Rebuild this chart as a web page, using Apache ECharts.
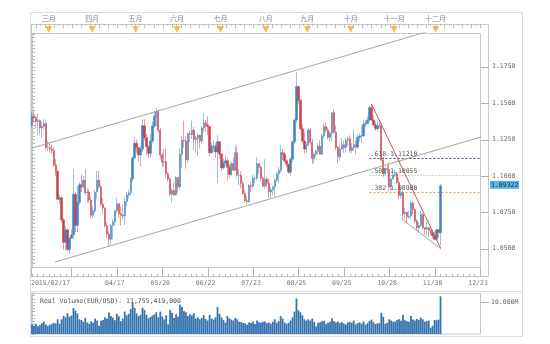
<!DOCTYPE html>
<html><head><meta charset="utf-8">
<script src="https://cdn.jsdelivr.net/npm/echarts@6/dist/echarts.min.js"></script>
<style>html,body{margin:0;padding:0;background:#fff}#c{width:550px;height:344px}</style>
</head><body><div id="c"></div>
<script>
// EUR/USD daily candles, 2015/02/17 .. 2015/12/03 : [open, close, low, high]
const candles = [
// Feb
[1.1350,1.1410,1.1335,1.1445],[1.1410,1.1400,1.1370,1.1450],[1.1400,1.1375,1.1330,1.1420],[1.1375,1.1380,1.1280,1.1430],
[1.1380,1.1330,1.1290,1.1390],[1.1330,1.1340,1.1260,1.1370],[1.1340,1.1360,1.1320,1.1390],[1.1360,1.1195,1.1175,1.1375],
[1.1195,1.1195,1.1170,1.1240],
// Mar
[1.1195,1.1185,1.1160,1.1235],[1.1185,1.1175,1.1150,1.1215],[1.1175,1.1075,1.1065,1.1190],[1.1075,1.1030,1.1000,1.1115],
[1.1030,1.0840,1.0835,1.1040],[1.0840,1.0850,1.0810,1.0875],[1.0850,1.0700,1.0680,1.0865],[1.0700,1.0545,1.0495,1.0710],
[1.0545,1.0630,1.0490,1.0655],[1.0630,1.0495,1.0485,1.0640],[1.0495,1.0570,1.0462,1.0580],[1.0570,1.0595,1.0570,1.0635],
[1.0595,1.0875,1.0565,1.1045],[1.0875,1.0660,1.0615,1.0890],[1.0660,1.0820,1.0615,1.0930],[1.0820,1.0940,1.0800,1.0955],
[1.0940,1.0925,1.0890,1.1010],[1.0925,1.0970,1.0915,1.1000],[1.0970,1.0885,1.0865,1.1050],[1.0885,1.0890,1.0815,1.0915],
[1.0890,1.0835,1.0815,1.0910],[1.0835,1.0730,1.0710,1.0860],
// Apr
[1.0730,1.0760,1.0710,1.0790],[1.0760,1.0890,1.0745,1.0905],[1.0890,1.0970,1.0840,1.1035],[1.0970,1.0925,1.0910,1.1035],
[1.0925,1.0805,1.0790,1.0940],[1.0805,1.0780,1.0740,1.0850],[1.0780,1.0660,1.0645,1.0785],[1.0660,1.0600,1.0575,1.0680],
[1.0600,1.0565,1.0520,1.0620],[1.0565,1.0660,1.0530,1.0670],[1.0660,1.0685,1.0565,1.0705],[1.0685,1.0760,1.0660,1.0770],
[1.0760,1.0810,1.0740,1.0850],[1.0810,1.0740,1.0710,1.0815],[1.0740,1.0730,1.0660,1.0790],[1.0730,1.0725,1.0705,1.0800],
[1.0725,1.0825,1.0665,1.0850],[1.0825,1.0870,1.0795,1.0890],[1.0870,1.0885,1.0845,1.0905],[1.0885,1.0980,1.0865,1.0990],
[1.0980,1.1125,1.0960,1.1135],[1.1125,1.1225,1.1115,1.1265],
// May
[1.1225,1.1195,1.1155,1.1250],[1.1195,1.1145,1.1100,1.1200],[1.1145,1.1185,1.1065,1.1210],[1.1185,1.1345,1.1165,1.1390],
[1.1345,1.1265,1.1245,1.1390],[1.1265,1.1200,1.1140,1.1290],[1.1200,1.1155,1.1125,1.1215],[1.1155,1.1240,1.1125,1.1290],
[1.1240,1.1345,1.1225,1.1375],[1.1345,1.1410,1.1330,1.1445],[1.1410,1.1445,1.1340,1.1467],[1.1445,1.1315,1.1300,1.1455],
[1.1315,1.1145,1.1115,1.1330],[1.1145,1.1095,1.1060,1.1160],[1.1095,1.1100,1.1065,1.1185],[1.1100,1.1015,1.0990,1.1190],
[1.1015,1.0980,1.0960,1.1025],[1.0980,1.0875,1.0860,1.0990],[1.0875,1.0900,1.0819,1.0915],[1.0900,1.0870,1.0865,1.0960],
[1.0870,1.0990,1.0865,1.1000],
// Jun
[1.0990,1.0925,1.0885,1.0995],[1.0925,1.1150,1.0905,1.1190],[1.1150,1.1245,1.1055,1.1275],[1.1245,1.1240,1.1195,1.1380],
[1.1240,1.1110,1.1050,1.1275],[1.1110,1.1290,1.1090,1.1300],[1.1290,1.1285,1.1230,1.1310],[1.1285,1.1315,1.1255,1.1380],
[1.1315,1.1250,1.1180,1.1335],[1.1250,1.1260,1.1160,1.1275],[1.1260,1.1280,1.1135,1.1295],[1.1280,1.1240,1.1190,1.1285],
[1.1240,1.1330,1.1220,1.1345],[1.1330,1.1365,1.1305,1.1436],[1.1365,1.1350,1.1300,1.1385],[1.1350,1.1340,1.1280,1.1410],
[1.1340,1.1160,1.1135,1.1340],[1.1160,1.1205,1.1155,1.1230],[1.1205,1.1205,1.1165,1.1245],[1.1205,1.1165,1.1125,1.1225],
[1.1165,1.1235,1.0955,1.1280],[1.1235,1.1150,1.1120,1.1240],
// Jul
[1.1150,1.1055,1.1035,1.1160],[1.1055,1.1090,1.1045,1.1120],[1.1090,1.1105,1.1070,1.1140],[1.1105,1.1060,1.0970,1.1120],
[1.1060,1.1010,1.0985,1.1080],[1.1010,1.1085,1.1000,1.1100],[1.1085,1.1040,1.1030,1.1125],[1.1040,1.1160,1.1035,1.1215],
[1.1160,1.1005,1.0990,1.1200],[1.1005,1.1005,1.0935,1.1050],[1.1005,1.0950,1.0915,1.1035],[1.0950,1.0880,1.0870,1.0965],
[1.0880,1.0830,1.0825,1.0905],[1.0830,1.0825,1.0808,1.0860],[1.0825,1.0935,1.0815,1.0945],[1.0935,1.0930,1.0890,1.0960],
[1.0930,1.0985,1.0915,1.1010],[1.0985,1.0985,1.0950,1.1005],[1.0985,1.1085,1.0970,1.1130],[1.1085,1.1060,1.1015,1.1090],
[1.1060,1.0985,1.0965,1.1070],[1.0985,1.0930,1.0925,1.0995],[1.0930,1.0980,1.0910,1.1115],
// Aug
[1.0980,1.0950,1.0920,1.0995],[1.0950,1.0890,1.0850,1.0980],[1.0890,1.0905,1.0850,1.0925],[1.0905,1.0925,1.0865,1.0935],
[1.0925,1.0970,1.0855,1.0985],[1.0970,1.1015,1.0960,1.1030],[1.1015,1.1040,1.0950,1.1065],[1.1040,1.1160,1.1020,1.1215],
[1.1160,1.1150,1.1110,1.1185],[1.1150,1.1105,1.1090,1.1165],[1.1105,1.1080,1.1060,1.1115],[1.1080,1.1025,1.1015,1.1085],
[1.1025,1.1115,1.1000,1.1130],[1.1115,1.1235,1.1095,1.1245],[1.1235,1.1385,1.1220,1.1395],[1.1385,1.1615,1.1365,1.1714],
[1.1615,1.1520,1.1490,1.1605],[1.1520,1.1325,1.1310,1.1525],[1.1325,1.1240,1.1225,1.1355],[1.1240,1.1185,1.1155,1.1300],
[1.1185,1.1210,1.1155,1.1230],
// Sep
[1.1210,1.1315,1.1205,1.1330],[1.1315,1.1230,1.1215,1.1330],[1.1230,1.1120,1.1085,1.1255],[1.1120,1.1150,1.1085,1.1160],
[1.1150,1.1170,1.1130,1.1180],[1.1170,1.1205,1.1145,1.1225],[1.1205,1.1150,1.1145,1.1245],[1.1150,1.1275,1.1145,1.1290],
[1.1275,1.1340,1.1260,1.1365],[1.1340,1.1315,1.1300,1.1370],[1.1315,1.1265,1.1250,1.1335],[1.1265,1.1295,1.1240,1.1305],
[1.1295,1.1435,1.1240,1.1440],[1.1435,1.1300,1.1290,1.1460],[1.1300,1.1195,1.1175,1.1350],[1.1195,1.1130,1.1085,1.1205],
[1.1130,1.1185,1.1105,1.1215],[1.1185,1.1215,1.1180,1.1260],[1.1215,1.1195,1.1160,1.1245],[1.1195,1.1245,1.1160,1.1265],
[1.1245,1.1255,1.1205,1.1270],[1.1255,1.1175,1.1160,1.1280],
// Oct
[1.1175,1.1195,1.1155,1.1225],[1.1195,1.1215,1.1170,1.1320],[1.1215,1.1200,1.1150,1.1245],[1.1200,1.1265,1.1185,1.1290],
[1.1265,1.1275,1.1235,1.1295],[1.1275,1.1275,1.1225,1.1340],[1.1275,1.1355,1.1270,1.1385],[1.1355,1.1360,1.1335,1.1385],
[1.1360,1.1385,1.1360,1.1410],[1.1385,1.1470,1.1370,1.1480],[1.1470,1.1385,1.1375,1.1495],[1.1385,1.1350,1.1345,1.1410],
[1.1350,1.1325,1.1310,1.1375],[1.1325,1.1345,1.1305,1.1385],[1.1345,1.1345,1.1325,1.1385],[1.1345,1.1110,1.1100,1.1365],
[1.1110,1.1015,1.0995,1.1130],[1.1015,1.1050,1.1005,1.1060],[1.1050,1.1045,1.1015,1.1080],[1.1045,1.0925,1.0895,1.1095],
[1.0925,1.0980,1.0900,1.0985],[1.0980,1.1005,1.0975,1.1050],
// Nov
[1.1005,1.1015,1.0990,1.1045],[1.1015,1.0955,1.0945,1.1030],[1.0955,1.0865,1.0845,1.0990],[1.0865,1.0885,1.0845,1.0920],
[1.0885,1.0740,1.0705,1.0900],[1.0740,1.0750,1.0705,1.0780],[1.0750,1.0720,1.0675,1.0755],[1.0720,1.0725,1.0705,1.0760],
[1.0725,1.0815,1.0700,1.0830],[1.0815,1.0770,1.0735,1.0825],[1.0770,1.0690,1.0675,1.0775],[1.0690,1.0645,1.0630,1.0705],
[1.0645,1.0660,1.0615,1.0680],[1.0660,1.0735,1.0650,1.0760],[1.0735,1.0645,1.0630,1.0745],[1.0645,1.0635,1.0595,1.0650],
[1.0635,1.0645,1.0590,1.0690],[1.0645,1.0625,1.0580,1.0650],[1.0625,1.0610,1.0595,1.0635],[1.0610,1.0590,1.0570,1.0635],
[1.0590,1.0565,1.0557,1.0620],
// Dec
[1.0565,1.0630,1.0560,1.0640],[1.0630,1.0610,1.0575,1.0635],[1.0610,1.09322,1.0524,1.0946]
];
// Real volume, thousand millions per day
const volumes = [
3.0,2.6,3.2,2.4,2.8,3.4,3.9,3.0,2.5,
2.9,3.1,3.5,3.3,4.6,3.2,
4.6,5.6,5.2,6.5,5.4,5.8,8.1,7.3,6.4,4.6,
4.4,3.8,5.0,3.6,3.2,4.0,3.5,4.8,4.2,2.6,4.1,
4.4,5.2,4.8,6.7,5.6,5.1,4.3,6.3,5.5,4.0,
4.8,7.0,5.8,6.3,7.8,9.7,8.1,6.4,5.6,6.0,
8.2,7.5,6.0,4.9,5.3,5.8,6.1,6.8,5.2,7.0,
5.4,4.6,5.8,3.0,7.5,6.6,5.0,6.2,5.4,9.1,
8.4,7.2,6.8,5.6,6.2,5.8,6.5,4.8,5.2,4.6,
5.0,5.9,4.7,4.2,6.0,4.8,4.5,5.2,8.4,6.3,
5.2,4.4,3.6,5.6,4.9,4.5,4.2,5.0,4.6,3.8,
3.8,3.5,3.3,2.9,3.6,3.4,3.9,3.1,4.2,3.7,3.5,3.8,3.9,
3.4,3.6,3.2,3.8,4.6,3.5,4.0,5.6,4.8,3.6,3.2,3.5,4.2,5.2,7.0,
11.1,7.4,6.8,5.8,4.6,4.2,
4.6,4.2,4.8,3.8,2.4,3.5,3.7,4.0,4.1,3.2,3.5,3.8,4.9,4.0,3.6,3.9,3.4,3.7,3.3,3.0,3.6,3.8,
3.5,4.2,3.0,3.4,3.6,3.2,3.9,2.9,3.4,4.1,4.5,3.7,3.1,3.3,3.4,
6.6,5.4,3.2,3.5,4.6,4.2,3.8,
3.9,4.4,4.6,4.1,6.0,4.3,4.0,3.8,5.6,4.5,4.2,4.7,4.4,5.1,4.6,3.8,4.0,4.2,2.0,2.6,4.4,
4.3,4.5,11.755419
];
const dateTickIndex = [-0.5, 43, 66, 89, 112, 135, 158, 181, 204, 227];
const dateTickLabels = ['2015/02/17','04/17','05/20','06/22','07/23','08/25','09/25','10/28','11/30','12/23'];
const monthStartIndex = [9, 31, 53, 74, 96, 119, 140, 162, 184, 205];
const monthNames = ['三月','四月','五月','六月','七月','八月','九月','十月','十一月','十二月'];
const priceTickLabels = ['1.0500','1.0750','1.1000','1.1250','1.1500','1.1750'];
const volumeTickValues = [10];
const volumeTickLabels = ['10.000M'];
const fibRatios = ['.618', '.500', '.382'];
const fibLevels = [1.11210, 1.10055, 1.08900];
const fibStartIndex = 171;
const channelUpper = [[0, 1.1192], [227.5, 1.2100]];
const channelLower = [[11.7, 1.0409], [227.5, 1.1268]];
const downTrend = [[172, 1.1495], [207, 1.0505]];
const wedgeLower = [[187.4, 1.0705], [207.2, 1.0499]];

// ---- presentation ----
const X_MIN = -0.5, X_MAX = 227.5;
const MONO = '"DejaVu Sans Mono", monospace';
const fibColors = ['#3b4a8c', '#7cc66a', '#d9a05e'];
const fibDash = [[2, 2], [1, 2], [2, 2]];

const rulerTicks = [[X_MIN, 1]];
for (let k = -7; 20 + k * 23 / 8 <= X_MAX + 1e-9; k++) rulerTicks.push([20 + k * 23 / 8, k % 8 === 0 ? 1 : 0]);
const topTicks = [];
for (let k = 0; X_MIN + k * 2.3 <= X_MAX; k++) topTicks.push([X_MIN + k * 2.3, k % 2]);

const last = candles[candles.length - 1];
const lastCloseText = last[1].toFixed(5);
const lastVol = Math.round(volumes[volumes.length - 1] * 1e6) * 1000;

const chart = echarts.init(document.getElementById('c'), null, {renderer: 'canvas'});
const xBase = {type: 'value', min: X_MIN, max: X_MAX, show: false};
const yHidden = {type: 'value', min: 0, max: 1, show: false};

chart.setOption({
  animation: false,
  backgroundColor: '#fff',
  title: {
    text: 'Real Volume(EUR/USD): ' + lastVol.toLocaleString('en-US'),
    left: 35, top: 293,
    textStyle: {fontSize: 6.5, fontFamily: MONO, fontWeight: 'normal', color: '#555'}
  },
  grid: [
    {left: 31, top: 33, width: 450, height: 234, outerBoundsMode: 'none'},
    {left: 31, top: 24, width: 450, height: 9, outerBoundsMode: 'none'},
    {left: 31, top: 268, width: 450, height: 9, outerBoundsMode: 'none'},
    {left: 31, top: 293, width: 450, height: 41, outerBoundsMode: 'none'}
  ],
  xAxis: [
    Object.assign({gridIndex: 0}, xBase),
    Object.assign({gridIndex: 1}, xBase),
    Object.assign({gridIndex: 2}, xBase),
    Object.assign({gridIndex: 3}, xBase)
  ],
  yAxis: [
    {gridIndex: 0, type: 'value', position: 'right', min: 1.0375, max: 1.1982, interval: 0.0025,
     axisLine: {show: true, lineStyle: {color: '#c8c8c8'}},
     axisTick: {show: true, length: 3, lineStyle: {color: '#b8b8b8'}},
     splitLine: {show: false},
     axisLabel: {margin: 11, fontSize: 6.5, fontFamily: MONO, color: '#666',
       formatter: v => { const s = Number(v).toFixed(4); return priceTickLabels.includes(s) ? s : ''; }}},
    Object.assign({gridIndex: 1}, yHidden),
    Object.assign({gridIndex: 2}, yHidden),
    {gridIndex: 3, type: 'value', position: 'right', min: 0, max: 12.8, interval: 1,
     axisLine: {show: true, lineStyle: {color: '#c8c8c8'}},
     axisTick: {show: true, length: 3, lineStyle: {color: '#b8b8b8'}},
     splitLine: {show: false},
     axisLabel: {margin: 10, fontSize: 6.5, fontFamily: MONO, color: '#666',
       formatter: v => { const i = volumeTickValues.indexOf(Math.round(v * 1000) / 1000); return i >= 0 ? volumeTickLabels[i] : ''; }}}
  ],
  graphic: [
    {type: 'rect', shape: {x: 30.5, y: 12.5, width: 492, height: 324}, style: {fill: 'none', stroke: '#dcdcdc'}},
    {type: 'rect', shape: {x: 31.5, y: 24.5, width: 457, height: 252}, style: {fill: 'none', stroke: '#c8c8c8'}},
    {type: 'rect', shape: {x: 31.5, y: 33.5, width: 449, height: 234}, style: {fill: 'none', stroke: '#c8c8c8'}},
    {type: 'line', shape: {x1: 30.5, y1: 291.5, x2: 522.5, y2: 291.5}, style: {stroke: '#dcdcdc'}},
    {type: 'rect', shape: {x: 31.5, y: 293.5, width: 449, height: 40.5}, style: {fill: 'none', stroke: '#c8c8c8'}}
  ],
  series: [
    {type: 'line', xAxisIndex: 0, yAxisIndex: 0, data: channelUpper, symbol: 'none', silent: true, clip: true,
     lineStyle: {color: '#a6a6a6', width: 1}},
    {type: 'line', xAxisIndex: 0, yAxisIndex: 0, data: channelLower, symbol: 'none', silent: true, clip: true,
     lineStyle: {color: '#a6a6a6', width: 1}},
    {type: 'custom', xAxisIndex: 0, yAxisIndex: 0, silent: true,
     data: fibLevels.map((lv, i) => [fibStartIndex, lv, i]), encode: {x: 0, y: 1},
     renderItem: (params, api) => {
       const i = params.dataIndex;
       const a = api.coord([api.value(0), api.value(1)]);
       const b = api.coord([X_MAX, api.value(1)]);
       const y = Math.round(a[1]) + 0.5;
       return {type: 'group', children: [
         {type: 'line', shape: {x1: a[0], y1: y, x2: b[0], y2: y}, style: {stroke: fibColors[i], lineWidth: 1, lineDash: fibDash[i]}},
         {type: 'text', style: {text: fibRatios[i] + ' ' + fibLevels[i].toFixed(5), x: a[0] + 1, y: y - 4.5,
           verticalAlign: 'middle', font: '6.5px ' + MONO, fill: '#555'}}
       ]};
     }},
    {type: 'candlestick', xAxisIndex: 0, yAxisIndex: 0, silent: true,
     data: candles.map((c, i) => [i, c[0], c[1], c[2], c[3]]), encode: {x: 0, y: [1, 2, 3, 4]},
     barWidth: 1.8,
     itemStyle: {color: '#3f80c6', color0: '#c93f49', borderColor: '#3f80c6', borderColor0: '#c93f49', borderWidth: 0.5}},
    {type: 'line', xAxisIndex: 0, yAxisIndex: 0, data: downTrend, symbol: 'none', silent: true, clip: true,
     lineStyle: {color: '#b95a5a', width: 1}},
    {type: 'line', xAxisIndex: 0, yAxisIndex: 0, data: wedgeLower, symbol: 'none', silent: true, clip: true,
     lineStyle: {color: '#a89a9a', width: 1}},
    {type: 'custom', xAxisIndex: 0, yAxisIndex: 0, silent: true,
     data: priceTickLabels.map(t => [X_MAX, parseFloat(t)]), encode: {x: 0, y: 1},
     renderItem: (params, api) => {
       const p = api.coord([api.value(0), api.value(1)]);
       const y = Math.round(p[1]) + 0.5;
       return {type: 'line', shape: {x1: p[0], y1: y, x2: p[0] + 8, y2: y}, style: {stroke: '#b0b0b0', lineWidth: 1}};
     }},
    {type: 'custom', xAxisIndex: 0, yAxisIndex: 0, silent: true, z: 5,
     data: [[X_MAX, last[1]]], encode: {x: 0, y: 1},
     renderItem: (params, api) => {
       const p = api.coord([api.value(0), api.value(1)]);
       return {type: 'group', children: [
         {type: 'rect', shape: {x: p[0] + 9, y: p[1] - 5, width: 29, height: 8}, style: {fill: '#5ab4ea'}},
         {type: 'text', style: {text: lastCloseText, x: p[0] + 10, y: p[1] - 1, verticalAlign: 'middle',
           font: '6.5px ' + MONO, fill: '#1c2c3c'}}
       ]};
     }},
    {type: 'custom', xAxisIndex: 1, yAxisIndex: 1, silent: true,
     data: topTicks, encode: {x: 0, y: 1},
     renderItem: (params, api) => {
       const p = api.coord([api.value(0), 1]);
       const x = Math.round(p[0]) + 0.5;
       return {type: 'line', shape: {x1: x, y1: p[1], x2: x, y2: p[1] + (api.value(1) ? 4 : 2)}, style: {stroke: '#bdbdbd', lineWidth: 1}};
     }},
    {type: 'scatter', xAxisIndex: 1, yAxisIndex: 1, silent: true,
     data: monthStartIndex.map(i => [i - 0.5, 0.4]),
     symbol: 'triangle', symbolRotate: 180, symbolSize: [7, 7],
     itemStyle: {color: '#f0ad2c'},
     label: {show: true, position: 'top', distance: 4, fontSize: 7, color: '#666',
       fontFamily: '"Noto Sans CJK SC", sans-serif', formatter: p => monthNames[p.dataIndex]}},
    {type: 'custom', xAxisIndex: 2, yAxisIndex: 2, silent: true,
     data: rulerTicks, encode: {x: 0, y: 1},
     renderItem: (params, api) => {
       const pos = api.value(0);
       const top = api.coord([pos, 1]), bot = api.coord([pos, 0]);
       const x = Math.round(bot[0]) + 0.5;
       return {type: 'line', shape: {x1: x, y1: api.value(1) ? top[1] : bot[1] - 3, x2: x, y2: bot[1]},
         style: {stroke: '#b8b8b8', lineWidth: 1}};
     }},
    {type: 'custom', xAxisIndex: 2, yAxisIndex: 2, silent: true,
     data: dateTickIndex.map(i => [i, 0]), encode: {x: 0, y: 1},
     renderItem: (params, api) => {
       const p = api.coord([api.value(0), 0]);
       const first = params.dataIndex === 0;
       return {type: 'text', style: {text: dateTickLabels[params.dataIndex], x: first ? p[0] : p[0] - 2, y: p[1] + 6,
         align: first ? 'left' : 'center', verticalAlign: 'middle', font: '6.5px ' + MONO, fill: '#777'}};
     }},
    {type: 'bar', xAxisIndex: 3, yAxisIndex: 3, silent: true,
     data: volumes.map((v, i) => [i, v]), barWidth: 1.8,
     itemStyle: {color: '#3674b0'}},
    {type: 'custom', xAxisIndex: 3, yAxisIndex: 3, silent: true,
     data: volumeTickValues.map(v => [X_MAX, v]), encode: {x: 0, y: 1},
     renderItem: (params, api) => {
       const p = api.coord([api.value(0), api.value(1)]);
       const y = Math.round(p[1]) + 0.5;
       return {type: 'line', shape: {x1: p[0], y1: y, x2: p[0] + 8, y2: y}, style: {stroke: '#b0b0b0', lineWidth: 1}};
     }}
  ]
});
</script>
</body></html>
